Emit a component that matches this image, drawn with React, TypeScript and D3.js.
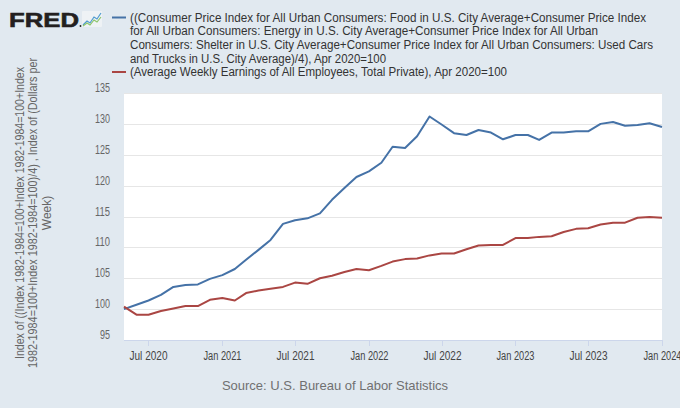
import React from 'react';
import * as d3 from 'd3';

const startMonth = '2020-05';
const months: string[] = [
  '2020-05','2020-06','2020-07','2020-08','2020-09','2020-10','2020-11','2020-12',
  '2021-01','2021-02','2021-03','2021-04','2021-05','2021-06','2021-07','2021-08','2021-09','2021-10','2021-11','2021-12',
  '2022-01','2022-02','2022-03','2022-04','2022-05','2022-06','2022-07','2022-08','2022-09','2022-10','2022-11','2022-12',
  '2023-01','2023-02','2023-03','2023-04','2023-05','2023-06','2023-07','2023-08','2023-09','2023-10','2023-11','2023-12',
  '2024-01',
];

const cpiBlend: number[] = [
  100.0, 100.7, 101.4, 102.3, 103.6, 103.9, 104.0, 104.9,
  105.5, 106.5, 108.0, 109.6, 111.2, 113.8, 114.4, 114.7, 115.5, 117.7, 119.6, 121.4,
  122.3, 123.7, 126.3, 126.1, 128.0, 131.2, 129.9, 128.5, 128.2, 129.0, 128.6, 127.5,
  128.2, 128.2, 127.4, 128.6, 128.6, 128.8, 128.8, 130.0, 130.3, 129.7, 129.8, 130.1,
  129.5,
];

const earnings: number[] = [
  100.4, 99.1, 99.1, 99.7, 100.1, 100.5, 100.5, 101.5,
  101.8, 101.4, 102.6, 103.0, 103.3, 103.6, 104.3, 104.1, 105.0, 105.4, 106.0, 106.5,
  106.3, 107.0, 107.7, 108.1, 108.2, 108.7, 109.0, 109.0, 109.7, 110.3, 110.4, 110.4,
  111.5, 111.5, 111.7, 111.8, 112.5, 113.0, 113.1, 113.7, 114.0, 114.0, 114.8, 114.9,
  114.8,
];

const yTicks: number[] = [95, 100, 105, 110, 115, 120, 125, 130, 135];
const xTickDates: string[] = ['2020-07', '2021-01', '2021-07', '2022-01', '2022-07', '2023-01', '2023-07', '2024-01'];
const xTickLabels: string[] = ['Jul 2020', 'Jan 2021', 'Jul 2021', 'Jan 2022', 'Jul 2022', 'Jan 2023', 'Jul 2023', 'Jan 2024'];

const legendLinesBlue: string[] = [
  '((Consumer Price Index for All Urban Consumers: Food in U.S. City Average+Consumer Price Index',
  'for All Urban Consumers: Energy in U.S. City Average+Consumer Price Index for All Urban',
  'Consumers: Shelter in U.S. City Average+Consumer Price Index for All Urban Consumers: Used Cars',
  'and Trucks in U.S. City Average)/4), Apr 2020=100',
];
const legendWidthsBlue: number[] = [516, 468, 523, 256];
const legendRed = '(Average Weekly Earnings of All Employees, Total Private), Apr 2020=100';
const legendRedWidth = 377;

const yTitleLines: string[] = [
  'Index of ((Index 1982-1984=100+Index 1982-1984=100+Index',
  '1982-1984=100+Index 1982-1984=100)/4) , Index of (Dollars per',
  'Week)',
];
const yTitleWidths: number[] = [292, 310, 0];

const source = 'Source: U.S. Bureau of Labor Statistics';

const W = 680;
const H = 408;
const plot = { left: 124, right: 662, top: 93, bottom: 340 };
const BLUE = '#4572a7';
const RED = '#aa4643';
const FONT = '"Liberation Sans", Arial, sans-serif';

const parse = d3.timeParse('%Y-%m');

export default function App() {
  const x = d3
    .scaleTime()
    .domain([parse(startMonth) as Date, parse('2024-01') as Date])
    .range([plot.left, plot.right]);
  const y = d3.scaleLinear().domain([95, 135]).range([plot.bottom, plot.top]);

  const dates = months.map((m) => parse(m) as Date);
  const line = d3
    .line<number>()
    .x((_, i) => x(dates[i]))
    .y((v) => y(v));

  return (
    <svg
      width={W}
      height={H}
      style={{ position: 'absolute', left: 0, top: 0, display: 'block' }}
      fontFamily={FONT}
    >
      <rect x={0} y={0} width={W} height={H} fill="#e1e9f0" />
      <rect x={plot.left} y={plot.top} width={plot.right - plot.left} height={plot.bottom - plot.top} fill="#ffffff" />

      {/* FRED logo */}
      <text x={9} y={27} fontWeight={900} fontSize={21} fill="#231f20" stroke="#231f20" strokeWidth={0.6} textLength={70} lengthAdjust="spacingAndGlyphs">FRED</text>
      <circle cx={80.5} cy={26} r={0.9} fill="#231f20" />
      <g transform="translate(82,11)">
        <rect x={0} y={0} width={20} height={16} fill="#eef2f5" rx={1} />
        <polyline points="1,14 5,10 8,12 12,6 15,8 19,2" fill="none" stroke="#4f9bd0" strokeWidth={1.2} />
        <polyline points="1,15 5,12 8,14 12,9 15,11 19,6" fill="none" stroke="#8cc56a" strokeWidth={1.2} />
      </g>

      {/* Legend */}
      <line x1={112} x2={126} y1={17.5} y2={17.5} stroke={BLUE} strokeWidth={2} />
      {legendLinesBlue.map((t, i) => (
        <text key={i} x={130} y={21.5 + i * 13.8} fontSize={12.5} fill="#333333" textLength={legendWidthsBlue[i]} lengthAdjust="spacingAndGlyphs">
          {t}
        </text>
      ))}
      <line x1={112} x2={126} y1={72} y2={72} stroke={RED} strokeWidth={2} />
      <text x={130} y={76} fontSize={12.5} fill="#333333" textLength={legendRedWidth} lengthAdjust="spacingAndGlyphs">
        {legendRed}
      </text>

      {/* Grid */}
      {yTicks.map((t) => (
        <g key={t}>
          {t !== 95 && (
            <line x1={plot.left} x2={plot.right} y1={Math.round(y(t)) + 0.5} y2={Math.round(y(t)) + 0.5} stroke="#e6e6e6" strokeWidth={1} />
          )}
          <text x={110} y={y(t) - 1} textAnchor="end" fontSize={12} fill="#666666" textLength={String(t).length * 5} lengthAdjust="spacingAndGlyphs">
            {t}
          </text>
        </g>
      ))}

      {/* X axis */}
      <line x1={plot.left} x2={plot.right} y1={plot.bottom + 0.5} y2={plot.bottom + 0.5} stroke="#ccd6eb" strokeWidth={1} />
      {xTickDates.map((d, i) => {
        const xx = Math.round(x(parse(d) as Date)) + 0.5;
        return (
          <g key={d}>
            <line x1={xx} x2={xx} y1={plot.bottom} y2={plot.bottom + 6} stroke="#ccd6eb" strokeWidth={1} />
            <text x={xx - 19} y={360} fontSize={12} fill="#444444" textLength={38} lengthAdjust="spacingAndGlyphs">
              {xTickLabels[i]}
            </text>
          </g>
        );
      })}

      {/* Lines */}
      <path d={line(cpiBlend) || ''} fill="none" stroke={BLUE} strokeWidth={2} strokeLinejoin="round" />
      <path d={line(earnings) || ''} fill="none" stroke={RED} strokeWidth={2} strokeLinejoin="round" />

      {/* Y axis title */}
      <g transform="translate(0,213) rotate(-90)">
        {yTitleLines.map((t, i) => (
          <text
            key={i}
            x={0}
            y={24 + i * 13.3}
            textAnchor="middle"
            fontSize={12}
            fill="#666666"
            {...(yTitleWidths[i] ? { textLength: yTitleWidths[i], lengthAdjust: 'spacingAndGlyphs' } : {})}
          >
            {t}
          </text>
        ))}
      </g>

      {/* Source */}
      <text x={335} y={389.5} textAnchor="middle" fontSize={13} fill="#707070">
        {source}
      </text>
    </svg>
  );
}
